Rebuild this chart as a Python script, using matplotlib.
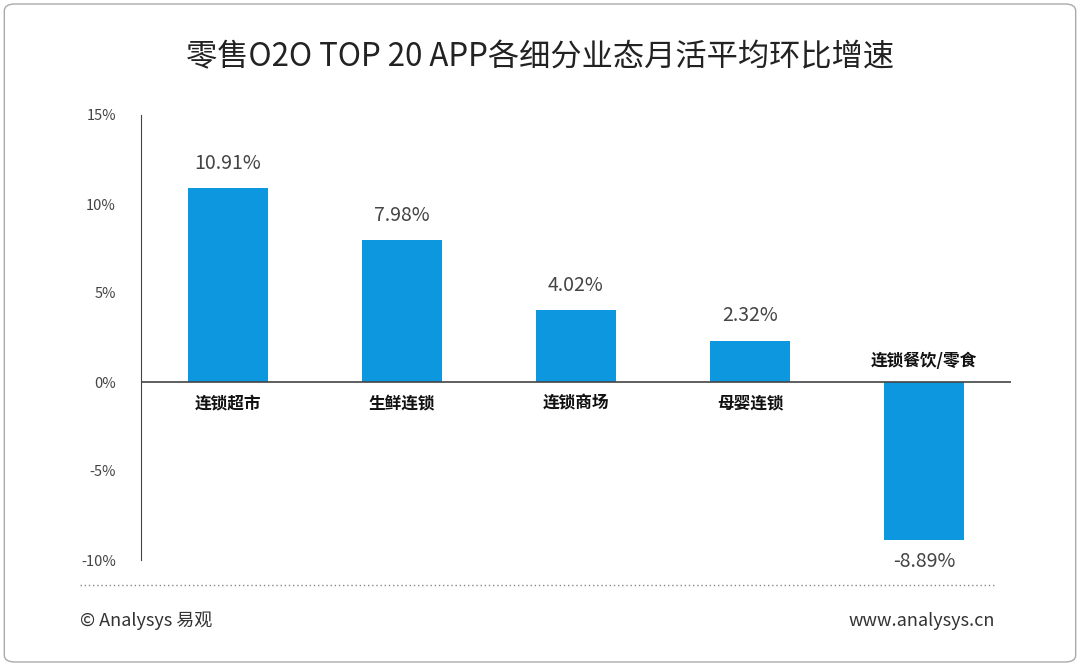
import matplotlib.pyplot as plt
from matplotlib.patches import FancyBboxPatch

plt.rcParams['font.family'] = ['Noto Sans CJK SC', 'DejaVu Sans']

categories = ["连锁超市", "生鲜连锁", "连锁商场", "母婴连锁", "连锁餐饮/零食"]
values = [10.91, 7.98, 4.02, 2.32, -8.89]
yticks = [-10, -5, 0, 5, 10, 15]

fig = plt.figure(figsize=(10.8, 6.66), dpi=100)
fig.patches.append(FancyBboxPatch((0.004, 0.006), 0.992, 0.988, boxstyle="round,pad=0,rounding_size=0.01",
                                  transform=fig.transFigure, fill=False, ec="#aaaaaa", lw=1))

ax = fig.add_axes([141 / 1080, 1 - 560 / 666, 870 / 1080, 445 / 666])
x = range(len(categories))
ax.bar(x, values, width=0.46, color="#0d97df")
ax.set_xlim(-0.5, 4.5)
ax.set_ylim(-10, 15)
ax.set_yticks(yticks)
ax.set_yticklabels([f"{t}%" for t in yticks], fontsize=10.5, color="#444444")
ax.set_xticks([])
for s in ["top", "right", "bottom"]:
    ax.spines[s].set_visible(False)
ax.spines["left"].set_color("#444444")
ax.tick_params(axis="y", length=0, pad=18)
ax.axhline(0, color="#444444", lw=1.2)

for i, v in enumerate(values):
    if v >= 0:
        ax.text(i, v + 0.8, f"{v:.2f}%", ha="center", va="bottom", fontsize=14, color="#444444")
        ax.text(i, -0.7, categories[i], ha="center", va="top", fontsize=12, fontweight="bold", color="#111111")
    else:
        ax.text(i, v - 0.6, f"{v:.2f}%", ha="center", va="top", fontsize=14, color="#444444")
        ax.text(i, 0.7, categories[i], ha="center", va="bottom", fontsize=12, fontweight="bold", color="#111111")

fig.text(0.5, 1 - 57 / 666, "零售O2O TOP 20 APP各细分业态月活平均环比增速", ha="center", va="center",
         fontsize=22.5, color="#222222")
fig.lines.append(plt.Line2D([80 / 1080, 995 / 1080], [1 - 585 / 666] * 2, transform=fig.transFigure,
                            ls=(0, (1, 2)), color="#888888", lw=1))
fig.text(80 / 1080, 1 - 621 / 666, "© Analysys 易观", ha="left", va="center", fontsize=13, color="#333333")
fig.text(995 / 1080, 1 - 621 / 666, "www.analysys.cn", ha="right", va="center", fontsize=13, color="#333333")

fig.savefig("out.png", dpi=100)
